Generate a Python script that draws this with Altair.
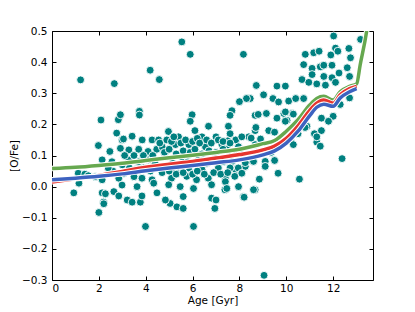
import altair as alt
import pandas as pd

# scatter points: stellar age [Gyr] and [O/Fe]
pt_age = [1.22, 2.66, 0.93, 1.15, 1.12, 1.4, 1.55, 1.85, 2.1, 2.14, 1.98, 2.0, 2.2, 2.14, 2.28, 2.64, 2.85,
          2.09, 2.83, 2.92, 2.76, 2.47,
          3.73, 3.73, 2.99, 3.42, 3.85, 4.27, 4.55, 2.92, 3.28, 3.7, 4.1, 4.47, 2.14, 2.56, 3.28, 3.7, 4.13, 4.4,
          2.85, 3.07, 3.5, 3.84, 4.27, 2.99, 3.63, 4.34, 3.21, 3.42, 3.77, 3.84, 4.48, 2.21, 3.99, 3.05,
          5.54, 5.9, 8.17, 4.19, 4.58, 8.72, 9.03, 8.46, 8.3, 8.0, 5.98, 7.68, 7.6, 8.67, 8.8,
          5.9, 6.68, 6.1, 7.53, 8.67, 4.97, 5.4, 6.4, 7.0, 7.84, 8.4, 4.7, 5.27, 5.84, 6.55, 7.25, 7.96, 8.67,
          4.84, 5.55, 6.27, 7.0, 7.68, 8.4, 4.55, 5.27, 5.84, 6.4, 7.1, 7.84, 8.25, 5.1, 5.75, 6.17, 6.67, 7.4,
          4.98, 5.47, 6.04, 6.81, 7.38, 7.96, 8.67, 5.04, 5.33, 5.6, 4.84, 5.6, 6.81, 7.0, 6.95, 8.17, 6.04,
          9.15, 9.9, 10.25, 10.03, 8.7, 9.25, 9.5, 10.88, 11.5, 10.5, 11.2, 7.6, 8.1, 8.5, 10.2, 11.3, 7.5, 8.9,
          7.46, 7.68, 8.25, 8.6, 9.1, 9.5, 9.1, 7.95, 7.6, 8.1, 7.8, 7.4, 9.65, 8.85, 10.56, 7.46, 8.6, 8.2,
          12.02, 13.17, 10.81, 11.17, 11.4, 11.9, 12.1, 12.2, 12.67, 12.74, 10.74, 11.1, 11.45, 11.6, 11.95,
          12.6, 10.67, 11.1, 11.6, 11.95, 12.25, 12.7, 10.96, 11.3, 11.67, 12.1, 9.6, 9.96, 9.43, 9.67, 10.1,
          10.4, 10.74, 9.96, 10.3, 9.6, 9.96, 10.5, 10.8, 12.3, 12.7, 12.0, 11.8, 11.5, 11.3, 11.45, 10.3,
          12.38, 9.35, 9.05,
          4.6, 4.9, 5.1, 5.2, 5.5, 5.7, 6.0, 6.2, 6.3, 6.6, 6.8, 7.1, 7.3, 7.6, 4.8, 5.0, 5.3, 5.6, 5.9, 6.1,
          6.4, 6.7, 7.0, 7.3, 7.7, 8.0, 4.7, 5.0, 5.3, 5.6, 6.0, 6.2, 6.5, 6.9, 7.2, 7.5, 3.3, 3.6, 3.9, 4.2,
          3.1, 3.5, 3.9, 4.3, 3.0, 2.6, 2.4, 5.15, 5.8, 6.6, 7.3]
pt_ofe = [0.343, 0.331, -0.02, 0.011, 0.043, 0.04, 0.035, 0.032, 0.03, 0.022, 0.132, -0.083, -0.05, -0.02, -0.023, -0.016, -0.03,
          0.214, 0.215, 0.231, 0.172, 0.113,
          0.242, 0.23, 0.15, 0.162, 0.15, 0.15, 0.15, 0.123, 0.118, 0.12, 0.113, 0.12, 0.086, 0.08, 0.086, 0.08, 0.086, 0.075,
          0.027, 0.043, 0.032, 0.027, 0.022, 0.005, 0.0, 0.011, -0.043, -0.05, -0.05, -0.03, -0.02, -0.055, -0.128, 0.153,
          0.465, 0.425, 0.425, 0.374, 0.344, 0.325, 0.295, 0.283, 0.283, 0.273, 0.231, 0.244, 0.229, 0.229, 0.232,
          0.21, 0.194, 0.18, 0.194, 0.18, 0.177, 0.16, 0.16, 0.16, 0.15, 0.16, 0.128, 0.135, 0.135, 0.128, 0.135, 0.128, 0.135,
          0.095, 0.095, 0.09, 0.095, 0.09, 0.085, 0.06, 0.055, 0.06, 0.055, 0.06, 0.055, 0.065, 0.027, 0.033, 0.022, 0.027, 0.027,
          0.006, 0.0, -0.006, 0.006, -0.01, 0.0, -0.01, -0.054, -0.065, -0.07, -0.043, -0.032, -0.037, -0.043, -0.07, -0.032, -0.128,
          0.235, 0.235, 0.235, 0.213, 0.19, 0.18, 0.175, 0.194, 0.22, 0.17, 0.17, 0.17, 0.16, 0.156, 0.146, 0.143, 0.147, 0.153,
          0.12, 0.081, 0.077, 0.081, 0.081, 0.084, 0.065, 0.06, 0.06, 0.043, 0.033, 0.016, 0.043, 0.024, 0.024, -0.006, -0.01, -0.034,
          0.484, 0.473, 0.425, 0.43, 0.435, 0.423, 0.445, 0.435, 0.444, 0.414, 0.392, 0.38, 0.385, 0.39, 0.39,
          0.382, 0.344, 0.36, 0.354, 0.35, 0.365, 0.354, 0.335, 0.33, 0.326, 0.335, 0.323, 0.323, 0.283, 0.272, 0.275,
          0.283, 0.283, 0.24, 0.233, 0.22, 0.21, 0.208, 0.19, 0.264, 0.285, 0.226, 0.21, 0.18, 0.16, 0.13, 0.135,
          0.09, 0.11, -0.285,
          0.14, 0.15, 0.145, 0.16, 0.14, 0.15, 0.145, 0.155, 0.14, 0.15, 0.14, 0.15, 0.145, 0.14, 0.11, 0.12, 0.105, 0.115, 0.11, 0.12,
          0.105, 0.115, 0.11, 0.12, 0.105, 0.11, 0.045, 0.05, 0.04, 0.045, 0.04, 0.05, 0.04, 0.045, 0.04, 0.045, 0.06, 0.055, 0.06, 0.05,
          0.1, 0.1, 0.1, 0.1, 0.07, 0.05, 0.06, 0.075, 0.08, 0.075, 0.08]

# model curves
line_age = [0, 1, 2, 3, 4, 5, 6, 7, 8, 9, 9.5, 10, 10.5, 11, 11.3, 11.6, 12, 12.3, 12.7, 13.0]
red_ofe = [0.015, 0.025, 0.036, 0.049, 0.062, 0.072, 0.081, 0.092, 0.103, 0.118, 0.13, 0.155, 0.195, 0.245, 0.268, 0.278, 0.268, 0.295, 0.315, 0.322]
blue_ofe = [0.022, 0.027, 0.033, 0.041, 0.051, 0.060, 0.068, 0.077, 0.086, 0.102, 0.115, 0.14, 0.178, 0.228, 0.255, 0.265, 0.258, 0.285, 0.305, 0.315]
green_age = [0, 1, 2, 3, 4, 5, 6, 7, 8, 9, 9.5, 10, 10.5, 11, 11.3, 11.6, 12, 12.3, 12.7, 13.0, 13.15, 13.45, 13.6]
green_ofe = [0.058, 0.062, 0.068, 0.075, 0.084, 0.093, 0.101, 0.11, 0.12, 0.138, 0.148, 0.178, 0.215, 0.262, 0.283, 0.29, 0.278, 0.305, 0.322, 0.33, 0.39, 0.51, 0.6]

x_ticks = [0, 2, 4, 6, 8, 10, 12]
y_ticks = [-0.3, -0.2, -0.1, 0.0, 0.1, 0.2, 0.3, 0.4, 0.5]

FONT = "DejaVu Sans"
FS = 10.5
xscale = alt.Scale(domain=[0, 13.7], nice=False, zero=False)
yscale = alt.Scale(domain=[-0.3, 0.5], nice=False, zero=False)

pts = pd.DataFrame({"age": pt_age, "ofe": pt_ofe})
scatter = alt.Chart(pts).mark_circle(
    size=62, color="#008080", opacity=1, stroke="white", strokeWidth=0.9, clip=True
).encode(
    x=alt.X("age:Q", scale=xscale,
            axis=alt.Axis(values=x_ticks, format="d", orient="bottom", offset=-4, tickSize=4, domain=False,
                          grid=False, labelPadding=3, title="Age [Gyr]", titlePadding=2,
                          labelFont=FONT, titleFont=FONT, labelFontSize=FS, titleFontSize=FS,
                          titleFontWeight="normal", labelColor="black", titleColor="black", tickColor="black")),
    y=alt.Y("ofe:Q", scale=yscale,
            axis=alt.Axis(values=y_ticks, format=".1f", orient="left", offset=-4, tickSize=4, domain=False,
                          grid=False, labelPadding=5, title="[O/Fe]", titlePadding=2,
                          labelFont=FONT, titleFont=FONT, labelFontSize=FS, titleFontSize=FS,
                          titleFontWeight="normal", labelColor="black", titleColor="black", tickColor="black")),
)

def line_layer(ages, vals, color, width, axes=False):
    df = pd.DataFrame({"age": ages, "ofe": vals})
    if axes:
        xa = alt.Axis(values=x_ticks, orient="top", offset=-4, tickSize=4, domain=False, labels=False,
                      grid=False, title=None, tickColor="black")
        ya = alt.Axis(values=y_ticks, orient="right", offset=-4, tickSize=4, domain=False, labels=False,
                      grid=False, title=None, tickColor="black")
    else:
        xa = None
        ya = None
    return alt.Chart(df).mark_line(color=color, strokeWidth=width, clip=True, interpolate="monotone").encode(
        x=alt.X("age:Q", scale=xscale, axis=xa),
        y=alt.Y("ofe:Q", scale=yscale, axis=ya),
    )

layers = [scatter]
layers.append(line_layer(green_age, green_ofe, "white", 5.5, axes=True))
layers.append(line_layer(green_age, green_ofe, "#66a84f", 3.5))
layers.append(line_layer(line_age, red_ofe, "white", 5.5))
layers.append(line_layer(line_age, red_ofe, "#e6352f", 3.5))
layers.append(line_layer(line_age, blue_ofe, "white", 5.5))
layers.append(line_layer(line_age, blue_ofe, "#3d62c0", 3.5))

chart = alt.layer(*layers).resolve_axis(x="independent", y="independent").properties(
    width=321, height=249,
    autosize=alt.AutoSizeParams(type="none"),
    padding={"left": 44, "top": 23, "right": 10, "bottom": 30},
).configure_view(stroke="black", strokeWidth=1)

chart.save("out.html", embed_options={"renderer": "svg", "actions": False})
